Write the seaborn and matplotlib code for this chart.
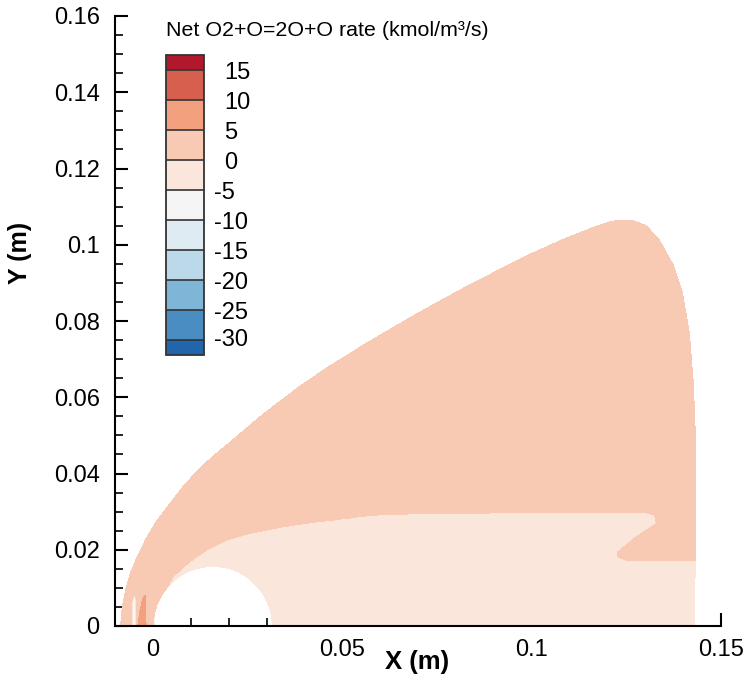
import numpy as np
import matplotlib
matplotlib.use("Agg")
import matplotlib.pyplot as plt
import seaborn as sns
from matplotlib.path import Path
from matplotlib.colors import ListedColormap, BoundaryNorm
from matplotlib.ticker import FixedLocator, MultipleLocator, FuncFormatter
from matplotlib import transforms

# ---- contour levels (kmol/m^3/s) and band colours, low -> high ----
levels = [-30, -25, -20, -15, -10, -5, 0, 5, 10, 15]
band_colors = ["#4a8dc3", "#7fb6d7", "#bcd9ea", "#dfebf3", "#f5f5f5",
               "#fae6da", "#f8cab3", "#f3a07e", "#d6604d"]
under_color = "#2166ac"
over_color = "#b2182b"

# ---- axis ticks ----
x_major = [0.0, 0.05, 0.1, 0.15]
y_major = [0.0, 0.02, 0.04, 0.06, 0.08, 0.1, 0.12, 0.14, 0.16]

# ---- zone outlines (m) ----
# outer edge of the shock layer
shock_x = [-0.00863, -0.00818, -0.00731, -0.00599, -0.00422, -0.00203,
           0.00061, 0.00369, 0.00720, 0.01116, 0.01557, 0.02005, 0.02902,
           0.03792, 0.04670, 0.05541, 0.06438, 0.07309, 0.08179, 0.09077,
           0.09947, 0.10818, 0.11530, 0.12137, 0.12586, 0.12823, 0.13034,
           0.13377, 0.13720, 0.13984, 0.14169, 0.14274, 0.14327, 0.14327,
           0.14301]
shock_y = [0.0, 0.00498, 0.00944, 0.01390, 0.01810, 0.02256,
           0.02702, 0.03122, 0.03568, 0.04014, 0.04433, 0.04801, 0.05559,
           0.06230, 0.06823, 0.07361, 0.07888, 0.08381, 0.08856, 0.09321,
           0.09753, 0.10142, 0.10425, 0.10624, 0.10651, 0.10590, 0.10493,
           0.10126, 0.09523, 0.08736, 0.07687, 0.06375, 0.05063, 0.01731,
           0.0]

# recombining zone around and behind the body
wake_x = [0.0050, 0.0020, 0.00536, 0.00976, 0.01417, 0.01945, 0.02559,
          0.03438, 0.04319, 0.05198, 0.05462, 0.05989, 0.07485, 0.13026,
          0.13245, 0.13290, 0.13026, 0.12762, 0.12498, 0.12279, 0.12279,
          0.12498, 0.14327, 0.14301]
wake_y = [0.0, 0.0070, 0.01293, 0.01687, 0.01994, 0.02256, 0.02431,
          0.02606, 0.02737, 0.02824, 0.02867, 0.02912, 0.02956, 0.02972,
          0.02912, 0.02693, 0.02518, 0.02343, 0.02125, 0.01949, 0.01818,
          0.01731, 0.01731, 0.0]

# pocket of strong dissociation on the stagnation line
stag_x = [-0.00396, -0.00309, -0.00230, -0.00203, -0.00185]
stag_y = [0.0, 0.00595, 0.00813, 0.00813, 0.0]

# thin strip just behind the shock on the axis
strip_x = [-0.0056, -0.0055, -0.0049, -0.0045, -0.0044]
strip_y = [0.0, 0.0065, 0.0085, 0.0070, 0.0]

# cylinder
body_cx, body_cy, body_r = 0.0158, 0.0, 0.0156

# representative net rate of each zone
shock_rate = 2.5
wake_rate = -2.5
stag_rate = 7.5
strip_rate = -7.5

# ---- build the field on a fine grid ----
gx = np.linspace(-0.01, 0.15, 1201)
gy = np.linspace(0.0, 0.12, 901)
X, Y = np.meshgrid(gx, gy)
pts = np.column_stack([X.ravel(), Y.ravel()])


def zone_mask(xs, ys):
    # close the outline underneath the symmetry axis
    poly = list(zip(xs, ys)) + [(xs[-1], -0.001), (xs[0], -0.001)]
    return Path(np.array(poly)).contains_points(pts).reshape(X.shape)


shock_zone = zone_mask(shock_x, shock_y)
Z = np.full(X.shape, np.nan)
Z[shock_zone] = shock_rate
Z[zone_mask(wake_x, wake_y) & shock_zone] = wake_rate
Z[zone_mask(stag_x, stag_y)] = stag_rate
Z[zone_mask(strip_x, strip_y)] = strip_rate
Z[(X - body_cx) ** 2 + (Y - body_cy) ** 2 < body_r ** 2] = np.nan
Z = np.ma.masked_invalid(Z)

# ---- style ----
sns.set_theme(style="white")
plt.rcParams["font.family"] = ["Liberation Sans", "DejaVu Sans"]
plt.rcParams["axes.unicode_minus"] = False
for key in ("text.color", "axes.labelcolor", "xtick.color", "ytick.color",
            "xtick.labelcolor", "ytick.labelcolor"):
    plt.rcParams[key] = "black"

cmap = ListedColormap(band_colors)
cmap.set_under(under_color)
cmap.set_over(over_color)
norm = BoundaryNorm(levels, cmap.N)

fig = plt.figure(figsize=(7.51, 6.85), dpi=100)
W, H = 751.0, 685.0
ax = fig.add_axes([115 / W, 59 / H, 606 / W, 610 / H])

cs = ax.contourf(X, Y, Z, levels=levels, cmap=cmap, norm=norm, extend="both")

ax.set_xlim(-0.01, 0.15)
ax.set_ylim(0.0, 0.16)
for side in ("top", "right"):
    ax.spines[side].set_visible(False)
for side in ("left", "bottom"):
    ax.spines[side].set_linewidth(1.5)
    ax.spines[side].set_color("black")

fmt = FuncFormatter(lambda v, p: f"{v:g}")
ax.xaxis.set_major_locator(FixedLocator(x_major))
ax.yaxis.set_major_locator(FixedLocator(y_major))
ax.xaxis.set_minor_locator(MultipleLocator(0.01))
ax.yaxis.set_minor_locator(MultipleLocator(0.005))
ax.xaxis.set_major_formatter(fmt)
ax.yaxis.set_major_formatter(fmt)
ax.tick_params(which="both", direction="in", color="black",
               top=False, right=False, left=True, bottom=True)
ax.tick_params(which="major", length=9.5, width=1.5, labelsize=17)
ax.tick_params(which="minor", length=6, width=1.2)
ax.tick_params(axis="x", which="major", pad=9)
ax.tick_params(axis="y", which="major", pad=11)

ax.set_xlabel("X (m)", fontsize=18.5, fontweight="bold")
ax.set_ylabel("Y (m)", fontsize=18, fontweight="bold")
ax.xaxis.set_label_coords(0.498, -0.039)
ax.yaxis.set_label_coords(-0.137, 0.612)

# ---- legend ----
cax = fig.add_axes([166 / W, (H - 355) / H, 38 / W, 300 / H])
cb = fig.colorbar(cs, cax=cax, orientation="vertical", extendrect=True,
                  extendfrac=15 / 270, drawedges=True, ticks=levels)
cb.outline.set_linewidth(1.3)
cb.outline.set_edgecolor("#333333")
cb.dividers.set_color("#333333")
cb.dividers.set_linewidth(1.2)
cax.tick_params(length=0, labelright=False, labelleft=False)

lab_tr = transforms.blended_transform_factory(fig.transFigure, cax.transData)
for v in levels:
    xpos = (224 if v >= 0 else 214) / W
    fig.text(xpos, v - 0.5, f"{v}", transform=lab_tr, ha="left",
             va="center", fontsize=17, color="black")

fig.text(166 / W, 1 - 31 / H, "Net O2+O=2O+O rate (kmol/m³/s)",
         ha="left", va="center", fontsize=15.4, color="black")

fig.savefig("out.png", dpi=100)
